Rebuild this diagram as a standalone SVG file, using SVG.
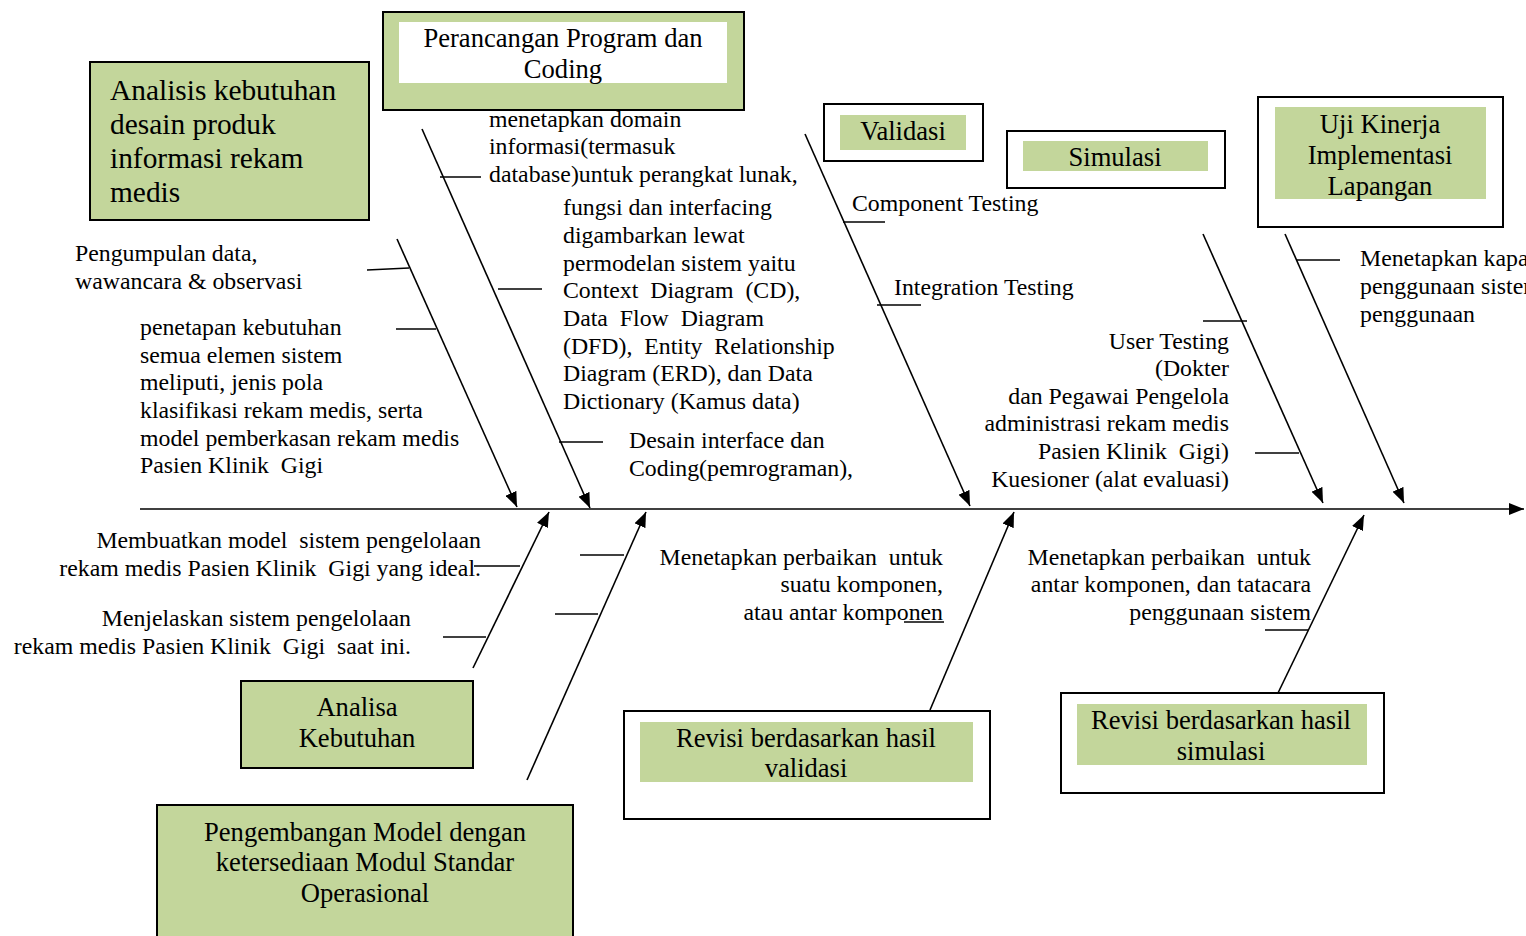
<svg xmlns="http://www.w3.org/2000/svg" width="1526" height="936" viewBox="0 0 1526 936">
<defs>
<marker id="ah" markerUnits="userSpaceOnUse" markerWidth="16" markerHeight="12" refX="15" refY="6" orient="auto">
<path d="M0,0 L15,6 L0,12 z" fill="#000"/>
</marker>
<style>
text{font-family:"Liberation Serif","Times New Roman",serif;fill:#000}
.lb{font-size:23.8px}
.nd{font-size:26.6px}
.big{font-size:29.4px}
.g{fill:#C3D69B}
.bx{stroke:#000;stroke-width:2}
.w{fill:#fff}
.br{stroke:#000;stroke-width:1.6;fill:none}
.tk{stroke:#000;stroke-width:1.6}
.e{text-anchor:end}
.m{text-anchor:middle}
</style>
</defs>
<rect width="1526" height="936" fill="#fff"/>

<g id="connectors">
<line class="br" x1="140" y1="509" x2="1524" y2="509" stroke-width="2" marker-end="url(#ah)"/>
<line class="br" x1="397" y1="239" x2="517" y2="507" marker-end="url(#ah)"/>
<line class="br" x1="422" y1="129" x2="590" y2="508" marker-end="url(#ah)"/>
<line class="br" x1="805" y1="134" x2="970" y2="506" marker-end="url(#ah)"/>
<line class="br" x1="1203" y1="234" x2="1323" y2="503" marker-end="url(#ah)"/>
<line class="br" x1="1285" y1="234" x2="1404" y2="503" marker-end="url(#ah)"/>
<line class="br" x1="473" y1="668" x2="549" y2="512" marker-end="url(#ah)"/>
<line class="br" x1="527" y1="780" x2="646" y2="512" marker-end="url(#ah)"/>
<line class="br" x1="930" y1="710" x2="1014" y2="512" marker-end="url(#ah)"/>
<line class="br" x1="1278" y1="693" x2="1364" y2="515" marker-end="url(#ah)"/>
<line class="tk" x1="367" y1="270" x2="409" y2="268"/>
<line class="tk" x1="396" y1="329" x2="436" y2="329"/>
<line class="tk" x1="440" y1="177" x2="481" y2="177"/>
<line class="tk" x1="498" y1="289" x2="542" y2="289"/>
<line class="tk" x1="559" y1="442" x2="603" y2="442"/>
<line class="tk" x1="843" y1="222" x2="885" y2="222"/>
<line class="tk" x1="877" y1="305" x2="921" y2="305"/>
<line class="tk" x1="1203" y1="321" x2="1247" y2="321"/>
<line class="tk" x1="1255" y1="453" x2="1299" y2="453"/>
<line class="tk" x1="1297" y1="260" x2="1340" y2="260"/>
<line class="tk" x1="474" y1="566" x2="520" y2="566"/>
<line class="tk" x1="443" y1="637" x2="486" y2="637"/>
<line class="tk" x1="580" y1="555" x2="624" y2="555"/>
<line class="tk" x1="555" y1="614" x2="598" y2="614"/>
<line class="tk" x1="904" y1="622" x2="944" y2="622"/>
<line class="tk" x1="1265" y1="630" x2="1308" y2="630"/>
</g>

<g id="node-analisis-kebutuhan-desain">
<rect class="g bx" x="90" y="62" width="279" height="158"/>
<text class="big" x="110" y="100">Analisis kebutuhan</text>
<text class="big" x="110" y="134">desain produk</text>
<text class="big" x="110" y="168">informasi rekam</text>
<text class="big" x="110" y="202">medis</text>
</g>

<g id="node-perancangan">
<rect class="g bx" x="383" y="12" width="361" height="98"/>
<rect class="w" x="399" y="22" width="328" height="61"/>
<text class="nd m" x="563" y="47">Perancangan Program dan</text>
<text class="nd m" x="563" y="78">Coding</text>
</g>

<g id="node-validasi">
<rect class="w bx" x="824" y="104" width="159" height="57"/>
<rect class="g" x="840" y="115" width="126" height="35"/>
<text class="nd m" x="903" y="140">Validasi</text>
</g>

<g id="node-simulasi">
<rect class="w bx" x="1007" y="131" width="218" height="57"/>
<rect class="g" x="1023" y="141" width="185" height="30"/>
<text class="nd m" x="1115" y="166">Simulasi</text>
</g>

<g id="node-uji-kinerja">
<rect class="w bx" x="1258" y="97" width="245" height="130"/>
<rect class="g" x="1275" y="107" width="211" height="92"/>
<text class="nd m" x="1380" y="133">Uji Kinerja</text>
<text class="nd m" x="1380" y="164">Implementasi</text>
<text class="nd m" x="1380" y="195">Lapangan</text>
</g>

<g id="node-analisa-kebutuhan">
<rect class="g bx" x="241" y="681" width="232" height="87"/>
<text class="nd m" x="357" y="716">Analisa</text>
<text class="nd m" x="357" y="747">Kebutuhan</text>
</g>

<g id="node-revisi-validasi">
<rect class="w bx" x="624" y="711" width="366" height="108"/>
<rect class="g" x="640" y="722" width="333" height="60"/>
<text class="nd m" x="806" y="747">Revisi berdasarkan hasil</text>
<text class="nd m" x="806" y="777">validasi</text>
</g>

<g id="node-revisi-simulasi">
<rect class="w bx" x="1061" y="693" width="323" height="100"/>
<rect class="g" x="1077" y="704" width="290" height="61"/>
<text class="nd m" x="1221" y="729">Revisi berdasarkan hasil</text>
<text class="nd m" x="1221" y="760">simulasi</text>
</g>

<g id="node-pengembangan">
<rect class="g bx" x="157" y="805" width="416" height="140"/>
<text class="nd m" x="365" y="841">Pengembangan Model dengan</text>
<text class="nd m" x="365" y="871">ketersediaan Modul Standar</text>
<text class="nd m" x="365" y="902">Operasional</text>
</g>

<g id="labels">
<text class="lb" x="489" y="127">menetapkan domain</text>
<text class="lb" x="489" y="154">informasi(termasuk</text>
<text class="lb" x="489" y="182">database)untuk perangkat lunak,</text>
<text class="lb" x="563" y="215">fungsi dan interfacing</text>
<text class="lb" x="563" y="243">digambarkan lewat</text>
<text class="lb" x="563" y="271">permodelan sistem yaitu</text>
<text class="lb" x="563" y="298" xml:space="preserve">Context  Diagram  (CD),</text>
<text class="lb" x="563" y="326" xml:space="preserve">Data  Flow  Diagram</text>
<text class="lb" x="563" y="354" xml:space="preserve">(DFD),  Entity  Relationship</text>
<text class="lb" x="563" y="381">Diagram (ERD), dan Data</text>
<text class="lb" x="563" y="409">Dictionary (Kamus data)</text>
<text class="lb" x="629" y="448">Desain interface dan</text>
<text class="lb" x="629" y="476">Coding(pemrograman),</text>
<text class="lb" x="75" y="261">Pengumpulan data,</text>
<text class="lb" x="75" y="289">wawancara &amp; observasi</text>
<text class="lb" x="140" y="335">penetapan kebutuhan</text>
<text class="lb" x="140" y="363">semua elemen sistem</text>
<text class="lb" x="140" y="390">meliputi, jenis pola</text>
<text class="lb" x="140" y="418">klasifikasi rekam medis, serta</text>
<text class="lb" x="140" y="446">model pemberkasan rekam medis</text>
<text class="lb" x="140" y="473" xml:space="preserve">Pasien Klinik  Gigi</text>
<text class="lb" x="852" y="211">Component Testing</text>
<text class="lb" x="894" y="295">Integration Testing</text>
<text class="lb e" x="1229" y="349">User Testing</text>
<text class="lb e" x="1229" y="376">(Dokter</text>
<text class="lb e" x="1229" y="404">dan Pegawai Pengelola</text>
<text class="lb e" x="1229" y="431">administrasi rekam medis</text>
<text class="lb e" x="1229" y="459" xml:space="preserve">Pasien Klinik  Gigi)</text>
<text class="lb e" x="1229" y="487">Kuesioner (alat evaluasi)</text>
<text class="lb" x="1360" y="266">Menetapkan kapasitas</text>
<text class="lb" x="1360" y="294">penggunaan sistem</text>
<text class="lb" x="1360" y="322">penggunaan</text>
<text class="lb e" x="481" y="548" xml:space="preserve">Membuatkan model  sistem pengelolaan</text>
<text class="lb e" x="481" y="576" xml:space="preserve">rekam medis Pasien Klinik  Gigi yang ideal.</text>
<text class="lb e" x="411" y="626">Menjelaskan sistem pengelolaan</text>
<text class="lb e" x="411" y="654" xml:space="preserve">rekam medis Pasien Klinik  Gigi  saat ini.</text>
<text class="lb e" x="943" y="565" xml:space="preserve">Menetapkan perbaikan  untuk</text>
<text class="lb e" x="943" y="592">suatu komponen,</text>
<text class="lb e" x="943" y="620">atau antar komponen</text>
<text class="lb e" x="1311" y="565" xml:space="preserve">Menetapkan perbaikan  untuk</text>
<text class="lb e" x="1311" y="592">antar komponen, dan tatacara</text>
<text class="lb e" x="1311" y="620">penggunaan sistem</text>
</g>
</svg>
